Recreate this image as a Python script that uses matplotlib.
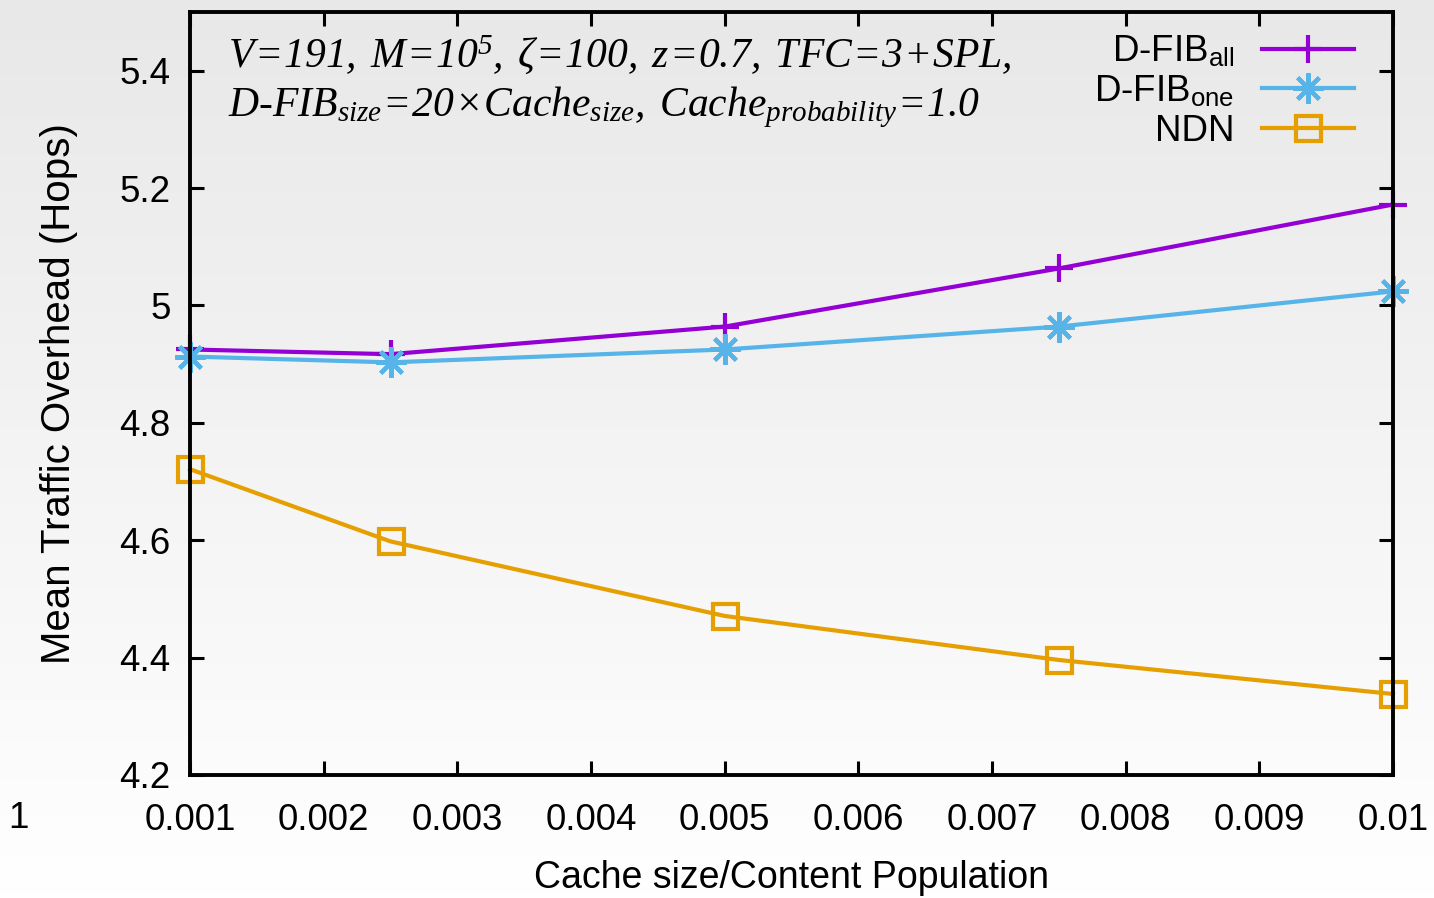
import numpy as np
import matplotlib
matplotlib.use("Agg")
import matplotlib.pyplot as plt

plt.rcParams['font.family'] = ['Liberation Sans', 'DejaVu Sans']
plt.rcParams['mathtext.fontset'] = 'custom'
plt.rcParams['mathtext.it'] = 'Liberation Serif:italic'
plt.rcParams['mathtext.rm'] = 'Liberation Serif:italic'
plt.rcParams['mathtext.sf'] = 'Liberation Sans'

# data
ratio = [0.001, 0.0025, 0.005, 0.0075, 0.01]
dfib_all = [4.925, 4.917, 4.964, 5.063, 5.172]
dfib_one = [4.913, 4.903, 4.925, 4.964, 5.024]
ndn = [4.721, 4.598, 4.471, 4.396, 4.338]
xticks = [0.001, 0.002, 0.003, 0.004, 0.005, 0.006, 0.007, 0.008, 0.009, 0.01]
xticklabels = ['0.001', '0.002', '0.003', '0.004', '0.005', '0.006', '0.007', '0.008', '0.009', '0.01']
yticks = [4.2, 4.4, 4.6, 4.8, 5.0, 5.2, 5.4]
yticklabels = ['4.2', '4.4', '4.6', '4.8', '5', '5.2', '5.4']

fig = plt.figure(figsize=(14.34, 8.98), dpi=100)

# background gradient (gray at top, white at bottom)
bg = fig.add_axes([0, 0, 1, 1], zorder=-10)
grad = np.linspace(0.91, 1.0, 256).reshape(-1, 1)
bg.imshow(np.dstack([grad, grad, grad]), aspect='auto', extent=[0, 1, 0, 1], origin='upper')
bg.set_axis_off()

ax = fig.add_axes([190/1434, 1 - 775/898, (1393-190)/1434, (775-12)/898])
ax.patch.set_alpha(0)

lw = 3
ax.plot(ratio, dfib_all, color='#9400D3', lw=lw, marker='+', ms=20, mew=3,
        label=r'D-FIB$_{\mathsf{all}}$', clip_on=False)
ax.plot(ratio, dfib_one, color='#56B4E9', lw=lw, marker=(8, 2, 0), ms=22, mew=3,
        label=r'D-FIB$_{\mathsf{one}}$', clip_on=False)
ax.plot(ratio, ndn, color='#E69F00', lw=lw, marker='s', ms=18, mew=3, mfc='none',
        label='NDN', clip_on=False)

ax.set_xlim(0.001, 0.01)
ax.set_ylim(4.2, 5.5)
ax.set_xticks(xticks)
ax.set_xticklabels(xticklabels)
ax.set_yticks(yticks)
ax.set_yticklabels(yticklabels)
ax.tick_params(direction='in', length=10, width=2.2, top=True, right=True, labelsize=26.5)
ax.tick_params(axis='x', pad=20)
ax.tick_params(axis='y', pad=14)
for s in ax.spines.values():
    s.set_linewidth(2.8)

ax.set_xlabel('Cache size/Content Population', fontsize=27, labelpad=16)
ax.set_ylabel('Mean Traffic Overhead (Hops)', fontsize=29, labelpad=30)

leg = ax.legend(loc='upper right', bbox_to_anchor=(0.986, 1.0), frameon=False, fontsize=26.5,
                markerfirst=False, handlelength=2.5, handletextpad=0.75, labelspacing=0.12,
                borderaxespad=0.2)
for t in leg.get_texts():
    t.set_ha('right')

note1 = r'$V\!=\!191,\;M\!=\!10^5,\;\zeta\!=\!100,\;z\!=\!0.7,\;TFC\!=\!3\!+\!SPL,$'
note2 = r'$D\text{-}FIB_{size}\!=\!20\!\times\! Cache_{size},\;Cache_{probability}\!=\!1.0$'
fig.text(228/1434, 1 - 55/898, note1, fontsize=30, va='center', ha='left')
fig.text(228/1434, 1 - 107/898, note2, fontsize=30, va='center', ha='left')

fig.text(18/1434, 1 - 818/898, '1', fontsize=26.5, ha='center', va='center')

fig.savefig('out.png', dpi=100)
